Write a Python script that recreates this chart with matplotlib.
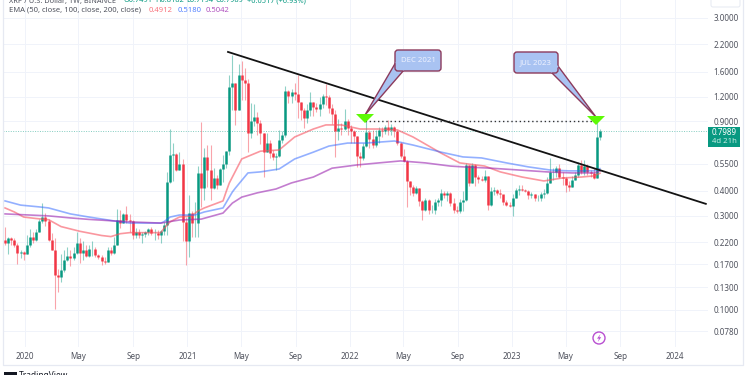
import matplotlib
matplotlib.use("Agg")
import matplotlib.pyplot as plt
import numpy as np
import pandas as pd
from matplotlib.patches import Circle, FancyBboxPatch, Polygon, Rectangle
from matplotlib.ticker import NullLocator

plt.rcParams["font.family"] = ["Noto Sans", "DejaVu Sans"]

# weekly candles
first_open = 0.226
closes = [
    .219, .230, .226, .213, .195, .197, .193, .213, .233, .226,
    .249, .281, .295, .281, .226, .201, .150, .146, .160, .179,
    .187, .183, .195, .219, .195, .200, .187, .203, .203, .190,
    .186, .176, .174, .200, .195, .213, .285, .276, .307, .285,
    .283, .240, .249, .240, .242, .249, .256, .244, .244, .240,
    .252, .270, .446, .61, .615, .51, .545, .28, .224, .31,
    .275, .275, .49, .415, .595, .51, .415, .465, .43, .515,
    .545, .635, 1.34, 1.405, 1.03, 1.54, 1.455, 1.40, .785, .90,
    .95, .88, .785, .63, .70, .62, .595, .60, .72, .77,
    1.28, 1.21, 1.27, 1.24, 1.13, 1.026, .93, 1.026, 1.12, 1.06,
    1.04, 1.10, 1.21, 1.19, 1.05, .975, .80, .83, .82, .905,
    .83, .80, .755, .60, .585, .675, .79, .73, .68, .76,
    .81, .80, .845, .81, .845, .80, .70, .60, .565, .447,
    .42, .39, .415, .355, .322, .36, .32, .322, .353, .36,
    .39, .38, .39, .347, .322, .317, .353, .36, .54, .44,
    .54, .47, .46, .455, .475, .34, .40, .405, .39, .385,
    .35, .34, .335, .37, .404, .41, .404, .40, .38, .385,
    .37, .37, .385, .39, .44, .50, .50, .525, .47, .465,
    .43, .42, .455, .48, .54, .50, .535, .50, .49, .465,
    .7491, .7989,
]
highs = [
    .263, .235, .235, .230, .217, .201, .199, .240, .256, .249,
    .256, .290, .346, .308, .287, .244, .230, .162, .193, .201,
    .209, .201, .209, .249, .232, .222, .213, .213, .224, .207,
    .193, .190, .186, .209, .209, .235, .325, .322, .309, .336,
    .304, .285, .259, .256, .249, .252, .261, .262, .256, .254,
    .254, .280, .50, .82, .70, .62, .63, .58, .296, .38,
    .315, .35, .535, .89, .66, .68, .68, .525, .48, .52,
    .61, .64, 1.55, 1.95, 1.41, 1.75, 1.81, 1.67, 1.47, 1.11,
    1.10, 1.0, .91, .785, .785, .72, .645, .62, .81, .80,
    1.35, 1.30, 1.31, 1.40, 1.54, 1.13, 1.05, 1.10, 1.26, 1.13,
    1.11, 1.2, 1.23, 1.38, 1.22, 1.10, 1.03, .925, .88, 1.04,
    .92, .865, .81, .755, .63, .70, .93, .81, .81, .81,
    .84, .84, .86, .91, .87, .85, .81, .71, .655, .573,
    .45, .43, .425, .415, .36, .37, .365, .34, .365, .37,
    .41, .40, .40, .395, .37, .335, .365, .40, .555, .54,
    .555, .55, .48, .475, .51, .475, .42, .42, .41, .41,
    .38, .36, .35, .385, .415, .43, .43, .41, .405, .395,
    .385, .38, .395, .41, .47, .585, .52, .535, .545, .50,
    .47, .45, .475, .50, .56, .57, .57, .55, .51, .525,
    .90, .8182,
]
lows = [
    .213, .193, .213, .209, .171, .183, .179, .192, .209, .219,
    .222, .247, .274, .267, .222, .200, .101, .123, .138, .155,
    .176, .167, .178, .193, .172, .179, .186, .186, .187, .186,
    .181, .168, .171, .174, .190, .193, .213, .259, .274, .274,
    .249, .228, .230, .230, .219, .235, .240, .240, .226, .228,
    .219, .240, .240, .437, .45, .505, .51, .222, .169, .186,
    .235, .235, .235, .33, .36, .42, .36, .41, .41, .43,
    .445, .525, .61, 1.03, .86, 1.03, 1.15, 1.15, .63, .74,
    .85, .77, .69, .47, .63, .585, .57, .51, .595, .70,
    .75, 1.11, 1.11, 1.15, .93, .91, .83, .885, .96, .96,
    1.0, .96, 1.05, 1.09, .99, .87, .59, .72, .77, .81,
    .77, .70, .70, .53, .53, .573, .67, .66, .66, .67,
    .70, .75, .78, .77, .77, .75, .68, .585, .56, .332,
    .38, .375, .385, .335, .285, .315, .305, .31, .305, .335,
    .335, .37, .355, .335, .31, .31, .31, .315, .355, .425,
    .44, .425, .44, .45, .445, .32, .335, .38, .38, .37,
    .34, .335, .33, .30, .37, .38, .40, .395, .365, .37,
    .355, .355, .355, .37, .385, .44, .455, .47, .465, .43,
    .395, .40, .42, .455, .47, .485, .48, .48, .47, .46,
    .465, .7194,
]
opens = [first_open] + closes[:-1]

# EMA lines, week number and price
ema50_weeks = [0, 3, 6, 10, 14, 18, 24, 31, 34, 37, 40, 50, 51, 53, 56, 60, 62, 64,
               70, 71, 72, 76, 82, 88, 93, 99, 103, 108, 114, 120, 126, 131, 140,
               146, 154, 159, 166, 173, 179, 185, 189, 191]
ema50_vals = [.328, .313, .295, .290, .286, .264, .250, .238, .235, .243, .246, .246,
              .258, .279, .295, .299, .317, .328, .356, .396, .438, .580, .635, .644,
              .749, .822, .862, .862, .822, .822, .813, .749, .621, .554, .534, .499,
              .470, .449, .465, .470, .476, .4912]
ema100_weeks = [0, 5, 11, 14, 21, 27, 35, 40, 50, 51, 53, 56, 61, 64, 70, 73, 74, 78,
                82, 88, 93, 99, 104, 110, 116, 125, 131, 140, 147, 153, 161, 168,
                175, 181, 189, 191]
ema100_vals = [.356, .339, .332, .328, .306, .295, .282, .275, .275, .279, .295, .302,
               .302, .313, .328, .395, .414, .493, .499, .516, .580, .628, .674, .698,
               .698, .715, .682, .628, .594, .587, .554, .529, .510, .505, .505, .518]
ema200_weeks = [0, 8, 14, 21, 27, 35, 40, 50, 56, 63, 70, 73, 76, 81, 87, 92, 99, 105,
                113, 120, 127, 135, 143, 147, 156, 165, 174, 182, 189, 191]
ema200_vals = [.306, .302, .299, .292, .287, .282, .279, .275, .285, .288, .309, .347,
               .372, .391, .409, .439, .470, .521, .541, .554, .567, .554, .534, .529,
               .521, .510, .499, .493, .493, .5042]

trend_weeks = [71.6, 225]
trend_vals = [2.016, .344]
breakout_weeks = [115.5, 189.7]
breakout_level = 0.90
last_price = 0.7989

price_ticks = [3.0, 2.2, 1.6, 1.2, 0.9, 0.55, 0.4, 0.3, 0.22, 0.17, 0.13, 0.1, 0.078]
date_ticks = ["2020-01-01", "2020-05-01", "2020-09-01", "2021-01-01", "2021-05-01",
              "2021-09-01", "2022-01-01", "2022-05-01", "2022-09-01", "2023-01-01",
              "2023-05-01", "2023-09-01", "2024-01-01"]
date_labels = ["2020", "May", "Sep", "2021", "May", "Sep", "2022", "May", "Sep",
               "2023", "May", "Sep", "2024"]

GREEN = "#089981"
RED = "#f23645"
GREY = "#50535e"
GRID = "#f0f3fa"

start = pd.Timestamp("2019-11-18")


def week_date(w):
    return start + pd.to_timedelta(np.asarray(w, dtype=float) * 7, unit="D")


fig = plt.figure(figsize=(7.5, 3.75), dpi=100, facecolor="white")
ax = fig.add_axes([3 / 750, 1 - 347 / 375, 705 / 750, 347 / 375])
ax.set_yscale("log")
ax.set_ylim(0.065, 3.69)
ax.set_xlim(week_date(-0.64), week_date(225.7))

ax.yaxis.tick_right()
ax.set_yticks(price_ticks)
ax.set_yticklabels([f"{p:.4f}" for p in price_ticks], fontsize=5.8, color=GREY)
ax.yaxis.set_minor_locator(NullLocator())
ax.set_xticks(pd.to_datetime(date_ticks))
ax.set_xticklabels(date_labels, fontsize=5.8, color=GREY)
for lab, txt in zip(ax.get_xticklabels(), date_labels):
    if txt.isdigit():
        lab.set_fontweight("bold")
ax.tick_params(axis="both", which="both", length=0)
ax.tick_params(axis="y", pad=4)
ax.tick_params(axis="x", pad=3.5)
ax.grid(True, color=GRID, lw=0.7)
ax.set_axisbelow(True)
for s in ax.spines.values():
    s.set_visible(False)

# candles
dates = week_date(np.arange(len(closes)))
colors = [GREEN if c >= o else RED for o, c in zip(opens, closes)]
ax.vlines(dates, lows, highs, colors=colors, lw=0.8, alpha=0.45, zorder=2)
ax.vlines(dates, opens, closes, colors=colors, lw=1.8, zorder=3)

ax.axhline(last_price, color=GREEN, lw=0.7, ls=(0, (1, 1.5)), alpha=0.5, zorder=1)

ax.plot(week_date(ema50_weeks), ema50_vals, color="#f7525f", lw=1.2, alpha=0.6, zorder=4)
ax.plot(week_date(ema100_weeks), ema100_vals, color="#2962ff", lw=1.2, alpha=0.5, zorder=4)
ax.plot(week_date(ema200_weeks), ema200_vals, color="#9c27b0", lw=1.2, alpha=0.6, zorder=4)

ax.plot(week_date(trend_weeks), trend_vals, color="#131313", lw=1.3, zorder=5)
ax.plot(week_date(breakout_weeks), [breakout_level, breakout_level], color="#333333",
        lw=1.0, ls=(0, (1, 2)), zorder=5)

# second layer in picture pixels for the notes and the TradingView furniture
ov = fig.add_axes([0, 0, 1, 1], facecolor="none")
ov.set_xlim(0, 750)
ov.set_ylim(375, 0)
ov.axis("off")

ov.plot([3, 3, 743, 743], [0, 365, 365, 0], color="#e6e9f2", lw=0.9)
ov.add_patch(FancyBboxPatch((711, -4), 29, 11, boxstyle="round,pad=0,rounding_size=2",
                            fc="white", ec="#e6e9f2", lw=0.7))


def callout(box, tail, label):
    x0, y0, x1, y1 = box
    ov.add_patch(Polygon(tail, closed=True, fc="#a9c3f2", ec="#8c3a5c", lw=1.0, zorder=6))
    ov.add_patch(FancyBboxPatch((x0, y0), x1 - x0, y1 - y0,
                                boxstyle="round,pad=0,rounding_size=3",
                                fc="#a9c3f2", ec="#8c3a5c", lw=1.0, zorder=7))
    ov.add_patch(Polygon(tail[:2], closed=False, fc="none", ec="#a9c3f2", lw=1.2, zorder=8))
    ov.text((x0 + x1) / 2, (y0 + y1) / 2, label, ha="center", va="center", fontsize=5.6,
            color="#eef2ff", zorder=9)


callout((395, 50, 441, 71), [(396, 62), (404, 70), (365, 115)], "DEC 2021")
callout((514, 52, 558, 73), [(551, 72), (558, 66), (596, 117)], "JUL 2023")

for cx, top in [(365, 114), (596, 116)]:
    ov.add_patch(Polygon([(cx - 9, top), (cx + 9, top), (cx, top + 9)], closed=True,
                         fc="#5dfa05", ec="none", zorder=9))

# last price tag
ov.add_patch(Rectangle((708, 127), 32, 20, fc=GREEN, ec="none"))
ov.text(724, 132.5, "0.7989", ha="center", va="center", fontsize=5.8, color="white",
        fontweight="bold")
ov.text(724, 141.5, "4d 21h", ha="center", va="center", fontsize=5.6, color="#c8ece4")

# legend lines
ov.text(9, 1, "XRP / U.S. Dollar, 1W, BINANCE", ha="left", va="center", fontsize=5.3, color=GREY)
for x, s in [(124, "O0.7491"), (155, "H0.8182"), (186, "L0.7194"), (216, "C0.7989"),
             (247, "+0.0517 (+6.93%)")]:
    ov.text(x, 1, s, ha="left", va="center", fontsize=5.3, color=GREEN)
ov.text(9, 10, "EMA (50, close, 100, close, 200, close)", ha="left", va="center",
        fontsize=5.5, color=GREY)
for x, s, c in [(149, "0.4912", "#f7525f"), (178, "0.5180", "#2962ff"), (206, "0.5042", "#9c27b0")]:
    ov.text(x, 10, s, ha="left", va="center", fontsize=5.5, color=c, alpha=0.8)

# bolt badge
ov.add_patch(Circle((599, 338), 6, fc="white", ec="#b84fd1", lw=1.0, zorder=6))
ov.add_patch(Polygon([(600.5, 334), (597, 338.6), (599, 338.6), (597.8, 342),
                      (601.2, 337.2), (599.2, 337.2)], closed=True, fc="#b84fd1", ec="none", zorder=7))

# TradingView mark, cut off by the lower edge
ov.add_patch(Rectangle((4, 372), 13, 3, fc="#131722", ec="none"))
ov.text(19, 376, "TradingView", ha="left", va="center", fontsize=6, color="#131722", fontweight="bold")

fig.savefig("out.png", dpi=100)
